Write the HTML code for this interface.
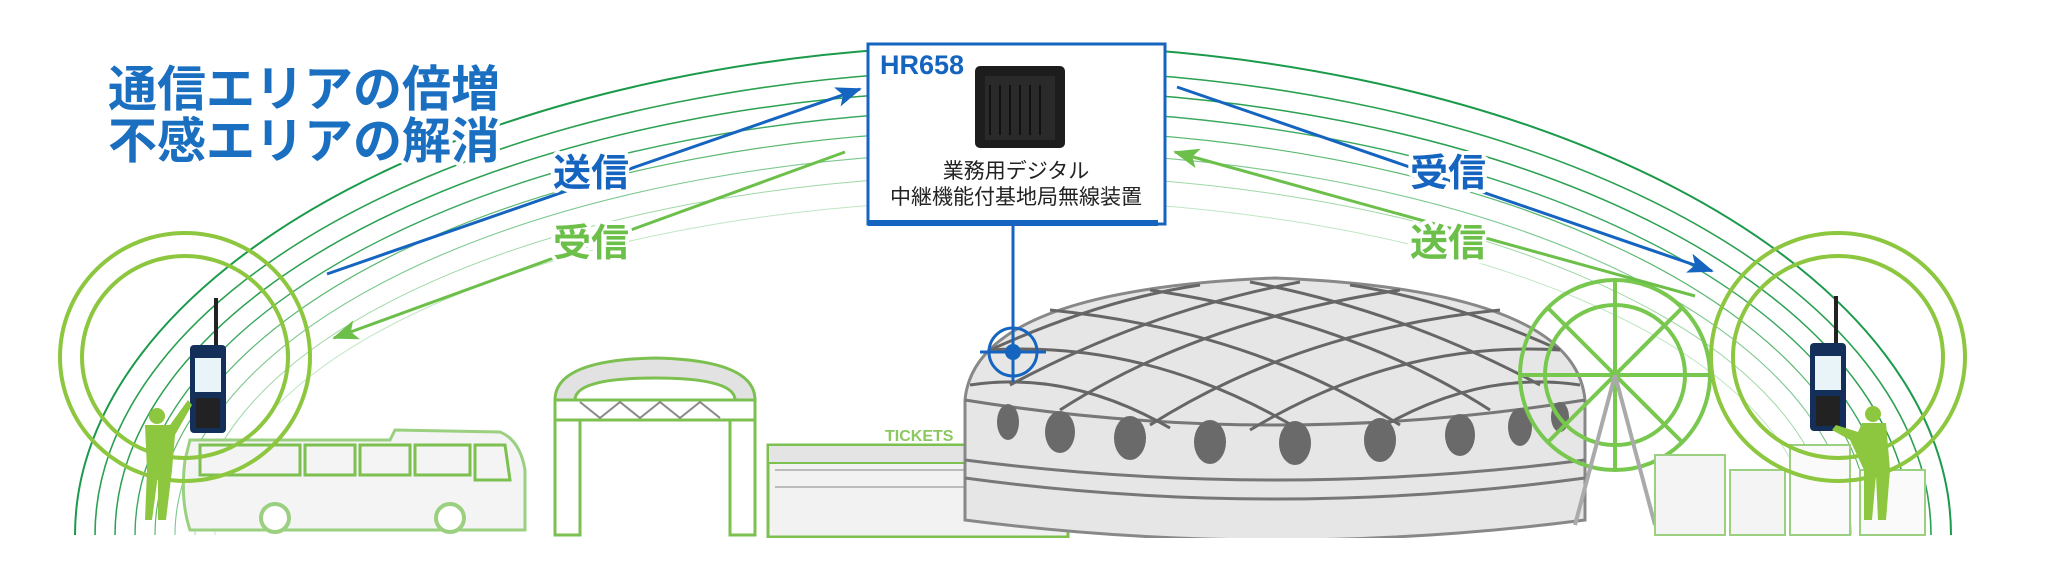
<!DOCTYPE html>
<html><head><meta charset="utf-8"><style>
html,body{margin:0;padding:0;background:#fff;}
svg{display:block}
text{font-family:"Liberation Sans","Noto Sans CJK JP",sans-serif;}
</style></head><body>
<svg width="2048" height="584" viewBox="0 0 2048 584" xmlns="http://www.w3.org/2000/svg">
<defs>
<marker id="ab" markerWidth="26" markerHeight="20" refX="24" refY="10" orient="auto" markerUnits="userSpaceOnUse" viewBox="0 0 26 20"><path d="M0,0 L26,10 L0,20 L6,10 z" fill="#1565c0"/></marker>
<marker id="ag" markerWidth="26" markerHeight="20" refX="24" refY="10" orient="auto" markerUnits="userSpaceOnUse" viewBox="0 0 26 20"><path d="M0,0 L26,10 L0,20 L6,10 z" fill="#6cc04a"/></marker>
</defs>
<!-- arcs -->
<g fill="none">
<path d="M75 535 A938 490 0 0 1 1951 535" stroke="#1a9a4a" stroke-width="2"/>
<path d="M95 535 A918 465 0 0 1 1931 535" stroke="#2aa050" stroke-width="1.6"/>
<path d="M115 535 A898 445 0 0 1 1911 535" stroke="#2aa050" stroke-width="1.5"/>
<path d="M135 535 A878 425 0 0 1 1891 535" stroke="#3aa860" stroke-width="1.4"/>
<path d="M155 535 A858 405 0 0 1 1871 535" stroke="#5ab870" stroke-width="1.2"/>
<path d="M175 535 A838 383 0 0 1 1851 535" stroke="#7cc890" stroke-width="1.1"/>
<path d="M195 535 A818 360 0 0 1 1831 535" stroke="#a0d8a8" stroke-width="1"/>
<path d="M215 535 A798 335 0 0 1 1811 535" stroke="#c0e6c4" stroke-width="1"/>
</g>
<!-- ticket building -->
<g>
<rect x="768" y="445" width="300" height="92" fill="#f2f2f2" stroke="#7cc050" stroke-width="3"/>
<rect x="768" y="445" width="300" height="18" fill="#e4e4e4" stroke="#7cc050" stroke-width="2"/>
<g stroke="#aaa" stroke-width="1.5">
<line x1="775" y1="470" x2="1060" y2="470"/><line x1="775" y1="487" x2="1060" y2="487"/>
</g>
<text x="885" y="441" font-size="16" font-weight="bold" fill="#8cc860">TICKETS</text>
</g>
<!-- dome -->
<g>
<path d="M965 400 Q975 290 1275 278 Q1575 290 1585 400 L1585 520 Q1275 560 965 520 Z" fill="#e6e6e6" stroke="#888" stroke-width="3"/>
<path d="M965 400 Q1275 450 1585 400" fill="none" stroke="#777" stroke-width="3"/>
<path d="M965 460 Q1275 500 1585 460" fill="none" stroke="#777" stroke-width="3"/>
<path d="M965 478 Q1275 520 1585 478" fill="none" stroke="#777" stroke-width="3"/>
<g fill="none" stroke="#666" stroke-width="3">
<path d="M990 350 Q1100 300 1200 285"/><path d="M1010 385 Q1150 310 1300 282"/><path d="M1060 410 Q1200 320 1400 290"/><path d="M1150 425 Q1300 330 1500 310"/><path d="M1250 430 Q1400 340 1560 350"/><path d="M1380 428 Q1480 370 1580 385"/>
<path d="M1560 350 Q1450 300 1350 285"/><path d="M1540 385 Q1400 310 1250 282"/><path d="M1490 410 Q1350 320 1150 290"/><path d="M1400 425 Q1250 330 1050 310"/><path d="M1300 430 Q1150 340 990 350"/><path d="M1170 428 Q1070 370 970 385"/>
</g>
<g fill="#6a6a6a">
<ellipse cx="1008" cy="422" rx="11" ry="18"/><ellipse cx="1060" cy="432" rx="15" ry="21"/><ellipse cx="1130" cy="438" rx="16" ry="22"/><ellipse cx="1210" cy="442" rx="16" ry="22"/><ellipse cx="1295" cy="443" rx="16" ry="22"/><ellipse cx="1380" cy="440" rx="16" ry="22"/><ellipse cx="1460" cy="435" rx="15" ry="21"/><ellipse cx="1520" cy="427" rx="12" ry="19"/><ellipse cx="1560" cy="417" rx="9" ry="15"/>
</g>
</g>
<!-- ferris wheel -->
<g fill="none" stroke="#78c850" stroke-width="4">
<circle cx="1615" cy="375" r="95"/><circle cx="1615" cy="375" r="70"/>
<path d="M1615 280 V470 M1520 375 H1710 M1548 308 L1682 442 M1682 308 L1548 442"/>
<path d="M1615 375 L1575 525 M1615 375 L1655 525" stroke="#aaa"/>
</g>
<!-- small buildings right -->
<g stroke="#9ad080" stroke-width="2" fill="#f4f4f4">
<rect x="1655" y="455" width="70" height="80"/><rect x="1730" y="470" width="55" height="65"/><rect x="1790" y="445" width="60" height="90" fill="#fafafa"/><rect x="1860" y="470" width="65" height="65" fill="#fafafa"/>
</g>
<!-- arch -->
<g>
<path d="M555 400 Q555 360 655 358 Q755 360 755 400 L735 400 Q735 378 655 378 Q575 378 575 400 Z" fill="#e2e2e2" stroke="#7cc050" stroke-width="3"/>
<rect x="555" y="400" width="200" height="20" fill="#fff" stroke="#7cc050" stroke-width="3"/>
<rect x="555" y="420" width="25" height="115" fill="#fff" stroke="#7cc050" stroke-width="3"/>
<rect x="730" y="420" width="25" height="115" fill="#fff" stroke="#7cc050" stroke-width="3"/>
<path d="M580 402 L600 418 L620 402 L640 418 L660 402 L680 418 L700 402 L720 418" fill="none" stroke="#888" stroke-width="2"/>
</g>
<!-- bus -->
<g>
<path d="M190 440 L390 440 L395 430 L500 432 Q520 440 525 470 L525 530 L190 530 Q180 500 185 460 Z" fill="#f4f4f4" stroke="#9ad080" stroke-width="3"/>
<g fill="none" stroke="#7cc050" stroke-width="3">
<rect x="200" y="445" width="100" height="30"/><rect x="305" y="445" width="50" height="30"/><rect x="360" y="445" width="50" height="30"/><rect x="415" y="445" width="55" height="30"/><path d="M475 445 L505 445 L510 480 L475 480 Z"/>
</g>
<g fill="#fff" stroke="#9ad080" stroke-width="4"><circle cx="275" cy="518" r="14"/><circle cx="450" cy="518" r="14"/></g>
</g>
<!-- left circles -->
<ellipse cx="185" cy="357" rx="125" ry="124" fill="none" stroke="#8dc63f" stroke-width="4"/>
<ellipse cx="185" cy="357" rx="103" ry="101" fill="none" stroke="#8dc63f" stroke-width="4"/>
<!-- right circles -->
<ellipse cx="1838" cy="357" rx="127" ry="124" fill="none" stroke="#8dc63f" stroke-width="4"/>
<ellipse cx="1838" cy="357" rx="105" ry="101" fill="none" stroke="#8dc63f" stroke-width="4"/>
<!-- radios -->
<g>
<rect x="214" y="298" width="4" height="50" fill="#222"/>
<rect x="190" y="345" width="36" height="88" rx="4" fill="#14305a"/>
<rect x="195" y="358" width="26" height="34" fill="#e8f4f8"/>
<rect x="196" y="398" width="24" height="30" fill="#222"/>
</g>
<g>
<rect x="1834" y="296" width="4" height="50" fill="#222"/>
<rect x="1810" y="343" width="36" height="88" rx="4" fill="#14305a"/>
<rect x="1815" y="356" width="26" height="34" fill="#e8f4f8"/>
<rect x="1816" y="396" width="24" height="30" fill="#222"/>
</g>
<!-- people -->
<g fill="#8dc63f">
<circle cx="157" cy="416" r="8"/><path d="M145 425 L170 425 L188 400 L192 405 L175 435 L172 470 L166 520 L158 520 L158 475 L152 520 L145 520 L147 470 Z"/>
<circle cx="1873" cy="414" r="8"/><path d="M1862 423 L1886 423 L1890 470 L1886 520 L1878 520 L1876 475 L1872 520 L1864 520 L1864 470 L1850 440 L1832 430 L1836 425 L1858 432 Z"/>
</g>
<!-- ground fade -->
<rect x="0" y="538" width="2048" height="46" fill="#fff"/>
<!-- box -->
<rect x="868" y="44" width="297" height="180" fill="#fff" stroke="#1565c0" stroke-width="3"/>
<rect x="868" y="220" width="290" height="6" fill="#1565c0"/>
<text x="880" y="74" font-size="27" font-weight="bold" fill="#1565c0">HR658</text>
<rect x="975" y="66" width="90" height="82" rx="5" fill="#1d1d1d"/>
<rect x="985" y="76" width="70" height="64" fill="#2a2a2a"/>
<g stroke="#111" stroke-width="2"><line x1="990" y1="85" x2="990" y2="135"/><line x1="1000" y1="85" x2="1000" y2="135"/><line x1="1010" y1="85" x2="1010" y2="135"/><line x1="1020" y1="85" x2="1020" y2="135"/><line x1="1030" y1="85" x2="1030" y2="135"/><line x1="1040" y1="85" x2="1040" y2="135"/></g>
<text x="1016" y="178" font-size="21" fill="#222" text-anchor="middle">業務用デジタル</text>
<text x="1016" y="204" font-size="21" fill="#222" text-anchor="middle">中継機能付基地局無線装置</text>
<!-- vertical line + crosshair -->
<line x1="1013" y1="226" x2="1013" y2="382" stroke="#1565c0" stroke-width="3"/>
<circle cx="1013" cy="352" r="24" fill="none" stroke="#1565c0" stroke-width="3"/>
<circle cx="1013" cy="352" r="8" fill="#1565c0"/>
<line x1="980" y1="352" x2="1046" y2="352" stroke="#1565c0" stroke-width="3"/>
<!-- arrows -->
<line x1="327" y1="274" x2="860" y2="89" stroke="#1565c0" stroke-width="3" marker-end="url(#ab)"/>
<line x1="845" y1="152" x2="334" y2="338" stroke="#6cc04a" stroke-width="3" marker-end="url(#ag)"/>
<line x1="1177" y1="87" x2="1712" y2="271" stroke="#1565c0" stroke-width="3" marker-end="url(#ab)"/>
<line x1="1695" y1="296" x2="1175" y2="152" stroke="#6cc04a" stroke-width="3" marker-end="url(#ag)"/>
<!-- labels -->
<g font-size="38" font-weight="bold" stroke="#fff" stroke-width="8" paint-order="stroke" stroke-linejoin="round">
<text x="553" y="186" fill="#1565c0">送信</text>
<text x="553" y="256" fill="#6cc04a">受信</text>
<text x="1410" y="186" fill="#1565c0">受信</text>
<text x="1410" y="256" fill="#6cc04a">送信</text>
</g>
<g font-size="49" font-weight="bold" fill="#1a6fc0" stroke="#fff" stroke-width="8" paint-order="stroke" stroke-linejoin="round">
<text x="108" y="106">通信エリアの倍増</text>
<text x="108" y="158">不感エリアの解消</text>
</g>
</svg>
</body></html>
